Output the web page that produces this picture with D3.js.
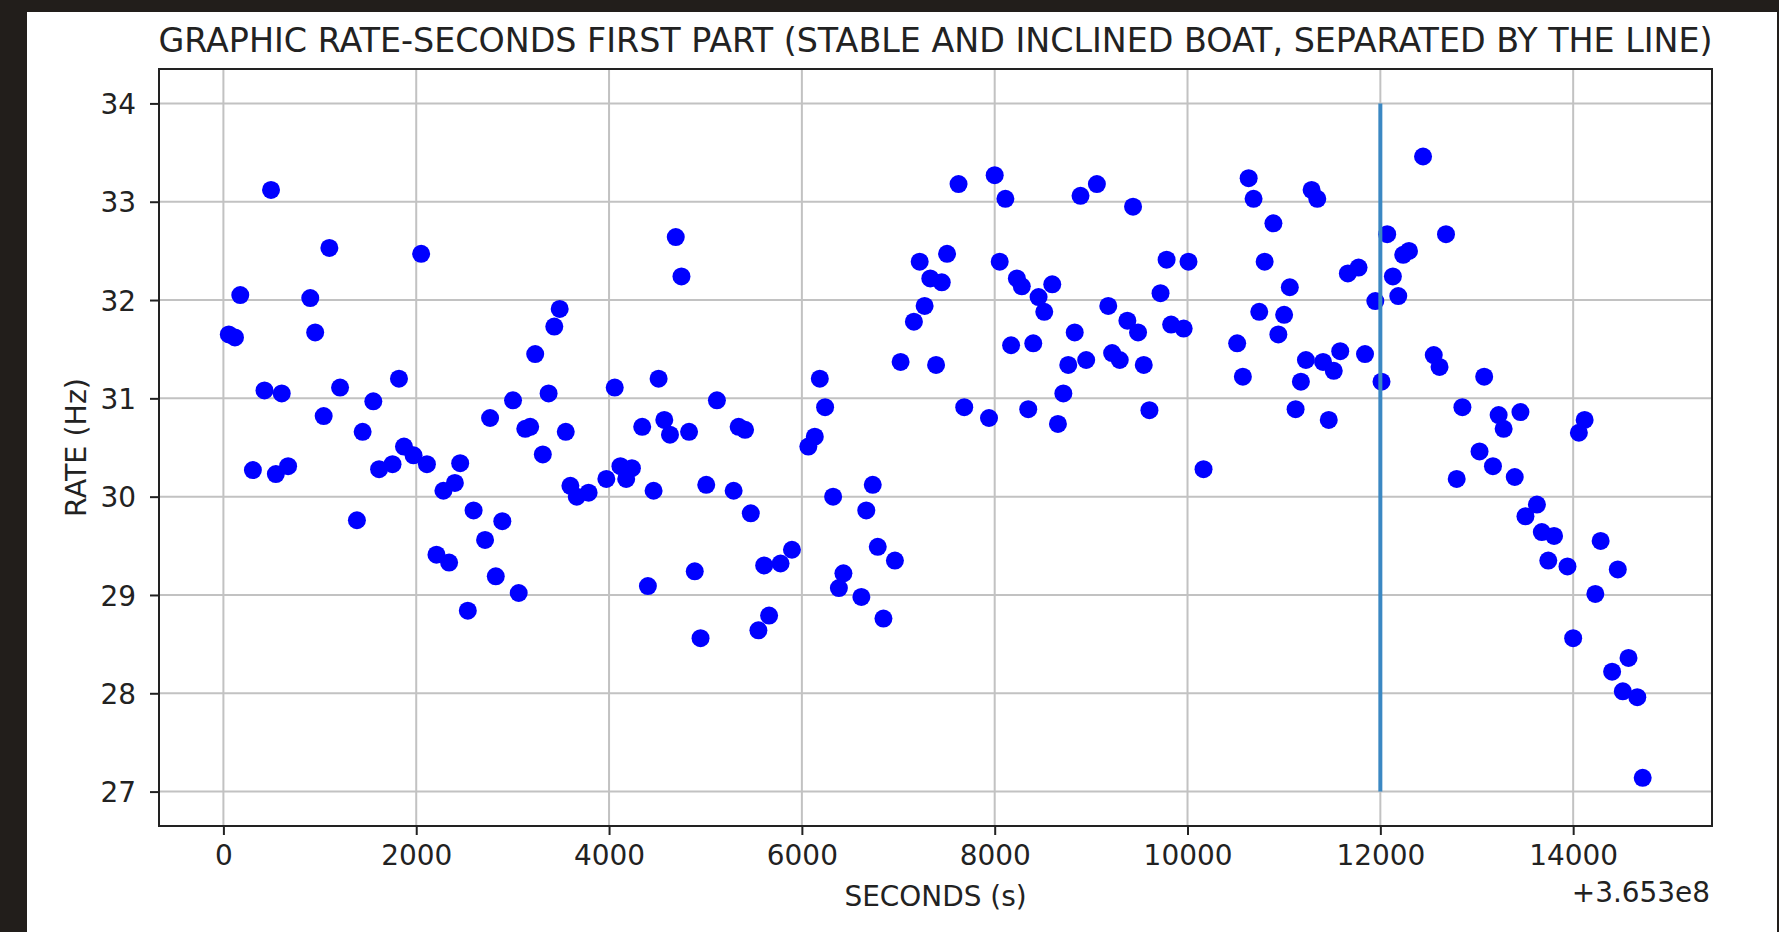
<!DOCTYPE html>
<html>
<head>
<meta charset="utf-8">
<script src="https://cdn.jsdelivr.net/npm/d3@7"></script>
<style>
  html, body { margin: 0; padding: 0; background: #221e1b; }
  svg { display: block; }
  text { font-family: "DejaVu Sans", sans-serif; fill: #222; }
</style>
</head>
<body>
<div id="chart"></div>
<script>
// seconds are offsets from 3.653e8
const seconds = [
  56, 120, 175, 306, 426, 494, 544, 605, 671, 901,
  952, 1040, 1099, 1210, 1385, 1444, 1555, 1615, 1754, 1821,
  1873, 1972, 2051, 2111, 2210, 2282, 2341, 2401, 2456, 2535,
  2595, 2714, 2766, 2825, 2893, 3004, 3063, 3131, 3182, 3234,
  3313, 3373, 3432, 3488, 3551, 3599, 3665, 3788, 3972, 4059,
  4118, 4178, 4237, 4344, 4403, 4462, 4514, 4573, 4632, 4692,
  4751, 4830, 4889, 4949, 5008, 5119, 5292, 5344, 5411, 5470,
  5549, 5609, 5660, 5779, 5897, 6067, 6134, 6186, 6241, 6324,
  6384, 6431, 6617, 6668, 6735, 6787, 6846, 6965, 7024, 7162,
  7222, 7273, 7332, 7392, 7451, 7506, 7625, 7684, 7941, 8000,
  8052, 8111, 8170, 8230, 8281, 8348, 8400, 8455, 8514, 8597,
  8656, 8712, 8763, 8830, 8890, 8949, 9060, 9178, 9218, 9297,
  9376, 9435, 9487, 9546, 9605, 9720, 9783, 9830, 9960, 10010,
  10166, 10515, 10574, 10634, 10685, 10744, 10800, 10891, 10942, 11002,
  11061, 11121, 11176, 11228, 11287, 11346, 11406, 11465, 11517, 11584,
  11663, 11774, 11841, 11948, 12012, 12071, 12130, 12186, 12237, 12297,
  12443, 12554, 12614, 12681, 12792, 12851, 13029, 13077, 13168, 13227,
  13279, 13394, 13453, 13505, 13624, 13675, 13742, 13802, 13941, 14000,
  14059, 14119, 14230, 14285, 14404, 14463, 14515, 14574, 14665, 14721
];
const rates = [
  31.65, 31.62, 32.05, 30.27, 31.08, 33.12, 30.23, 31.05, 30.31, 32.02,
  31.67, 30.82, 32.53, 31.11, 29.76, 30.66, 30.97, 30.28, 30.33, 31.20,
  30.51, 30.42, 32.47, 30.33, 29.41, 30.06, 29.33, 30.14, 30.34, 28.84,
  29.86, 29.56, 30.80, 29.19, 29.75, 30.98, 29.02, 30.69, 30.71, 31.45,
  30.43, 31.05, 31.73, 31.91, 30.66, 30.11, 30.00, 30.04, 30.18, 31.11,
  30.31, 30.18, 30.29, 30.71, 29.09, 30.06, 31.20, 30.78, 30.63, 32.64,
  32.24, 30.66, 29.24, 28.56, 30.12, 30.98, 30.06, 30.71, 30.68, 29.83,
  28.64, 29.30, 28.79, 29.32, 29.46, 30.51, 30.61, 31.20, 30.91, 30.00,
  29.07, 29.22, 28.98, 29.86, 30.12, 29.49, 28.76, 29.35, 31.37, 31.78,
  32.39, 31.94, 32.22, 31.34, 32.18, 32.47, 33.18, 30.91, 30.80, 33.27,
  32.39, 33.03, 31.54, 32.22, 32.14, 30.89, 31.56, 32.03, 31.88, 32.16,
  30.74, 31.05, 31.34, 31.67, 33.06, 31.39, 33.18, 31.94, 31.46, 31.39,
  31.79, 32.95, 31.67, 31.34, 30.88, 32.07, 32.41, 31.75, 31.71, 32.39,
  30.28, 31.56, 31.22, 33.24, 33.03, 31.88, 32.39, 32.78, 31.65, 31.85,
  32.13, 30.89, 31.17, 31.39, 33.12, 33.03, 31.37, 30.78, 31.28, 31.48,
  32.27, 32.33, 31.45, 31.99, 31.17, 32.67, 32.24, 32.04, 32.46, 32.50,
  33.46, 31.44, 31.32, 32.67, 30.18, 30.91, 30.46, 31.22, 30.31, 30.83,
  30.69, 30.20, 30.86, 29.80, 29.92, 29.64, 29.35, 29.60, 29.29, 28.56,
  30.65, 30.78, 29.01, 29.55, 28.22, 29.26, 28.02, 28.36, 27.96, 27.14
];

// separator line between stable and inclined boat
const splitX = [12000, 12000];
const splitY = [27, 34];

const xTicks = [0, 2000, 4000, 6000, 8000, 10000, 12000, 14000];
const yTicks = [27, 28, 29, 30, 31, 32, 33, 34];

const TITLE = 'GRAPHIC RATE-SECONDS FIRST PART (STABLE AND INCLINED BOAT, SEPARATED BY THE LINE)';
const X_LABEL = 'SECONDS (s)';
const Y_LABEL = 'RATE (Hz)';
const OFFSET_LABEL = '+3.653e8';

const W = 1779, H = 932;
const SX = 0.98; // text in the picture is a touch narrow
const plot = { left: 159, top: 69, right: 1712, bottom: 826 };

const svg = d3.select('#chart').append('svg')
  .attr('width', W)
  .attr('height', H);

// white figure area inside the dark frame
svg.append('rect')
  .attr('x', 27).attr('y', 12)
  .attr('width', 1750).attr('height', H - 12)
  .attr('fill', '#fff');

const x = d3.scaleLinear().domain([-668, 15440]).range([plot.left, plot.right]);
const y = d3.scaleLinear().domain([26.65, 34.35]).range([plot.bottom, plot.top]);

function label(txt, px, py, size, anchor, rotate) {
  return svg.append('text')
    .attr('transform', `translate(${px},${py}) scale(${SX},1)` + (rotate ? ` rotate(${rotate})` : ''))
    .attr('text-anchor', anchor)
    .attr('font-size', size + 'px')
    .text(txt);
}

// Grid
const grid = svg.append('g').attr('stroke', '#c2c2c2').attr('stroke-width', 2);
grid.selectAll('.gx').data(xTicks).enter().append('line')
  .attr('x1', d => x(d)).attr('x2', d => x(d))
  .attr('y1', plot.top).attr('y2', plot.bottom);
grid.selectAll('.gy').data(yTicks).enter().append('line')
  .attr('x1', plot.left).attr('x2', plot.right)
  .attr('y1', d => y(d)).attr('y2', d => y(d));

// Scatter points
svg.append('g').selectAll('circle')
  .data(seconds.map((s, i) => ({ s, r: rates[i] })))
  .enter().append('circle')
  .attr('cx', d => x(d.s))
  .attr('cy', d => y(d.r))
  .attr('r', 9)
  .attr('fill', '#0000ff');

// Separator line
svg.append('path')
  .datum(splitX.map((v, i) => [v, splitY[i]]))
  .attr('d', d3.line().x(d => x(d[0])).y(d => y(d[1])))
  .attr('stroke', '#3b88c3')
  .attr('stroke-width', 4)
  .attr('fill', 'none');

// Axes
const xAxis = svg.append('g')
  .attr('transform', `translate(0,${plot.bottom})`)
  .call(d3.axisBottom(x).tickValues(xTicks).tickFormat(d3.format('d')).tickSize(9).tickSizeOuter(0));
const yAxis = svg.append('g')
  .attr('transform', `translate(${plot.left},0)`)
  .call(d3.axisLeft(y).tickValues(yTicks).tickFormat(d3.format('d')).tickSize(9).tickSizeOuter(0));

[xAxis, yAxis].forEach(a => {
  a.select('.domain').remove();
  a.selectAll('.tick line').attr('stroke', '#222').attr('stroke-width', 2);
  a.selectAll('.tick text')
    .attr('fill', '#222')
    .attr('font-size', '28.5px')
    .attr('font-family', '"DejaVu Sans", sans-serif');
});
xAxis.selectAll('.tick text')
  .attr('y', null).attr('dy', null)
  .attr('transform', `translate(0,39) scale(${SX},1)`);
yAxis.selectAll('.tick text')
  .attr('x', null).attr('dy', '0.36em')
  .attr('transform', `translate(-23,0) scale(${SX},1)`);

// Frame
svg.append('rect')
  .attr('x', plot.left).attr('y', plot.top)
  .attr('width', plot.right - plot.left).attr('height', plot.bottom - plot.top)
  .attr('fill', 'none')
  .attr('stroke', '#222')
  .attr('stroke-width', 2);

// Texts
label(TITLE, (plot.left + plot.right) / 2, 52, 34, 'middle');
label(X_LABEL, (plot.left + plot.right) / 2, 906, 28.5, 'middle');
label(OFFSET_LABEL, plot.right - 2, 902, 28.5, 'end');
label(Y_LABEL, 86, (plot.top + plot.bottom) / 2, 28.5, 'middle', -90);
</script>
</body>
</html>
